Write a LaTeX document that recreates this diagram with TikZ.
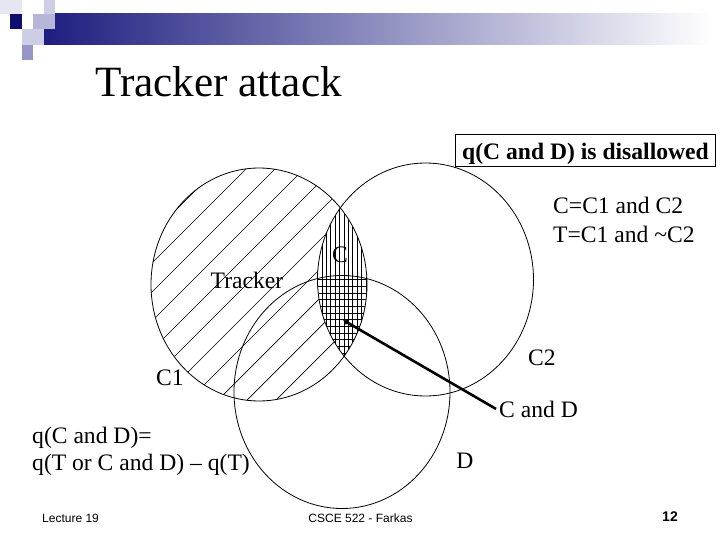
\documentclass[tikz,border=0pt]{standalone}
\usepackage{fontspec}
\setmainfont{Liberation Serif}
\newfontfamily\footfont{Liberation Sans}
\usetikzlibrary{arrows.meta,positioning}

\definecolor{navy}{RGB}{14,14,110}
\definecolor{barleft}{RGB}{30,30,128}
\definecolor{lavmid}{RGB}{150,150,200}
\definecolor{lavpale}{RGB}{205,205,230}

\begin{document}
\begin{tikzpicture}[x=1pt,y=-1pt,
	lbl/.style={font=\fontsize{23.6}{21}\selectfont, inner sep=0pt},
	ring/.style={line width=0.8pt},
	hatch/.style={line width=0.7pt},
	foot/.style={font=\footfont\fontsize{12}{14}\selectfont, inner sep=0pt}]
	\useasboundingbox (0,0) rectangle (720,540);
	
	% header bar and squares
	\shade[left color=barleft, right color=white] (44,14) rectangle (712,45);
	\fill[lavpale!50] (0,0) rectangle (22,14);
	\fill[lavpale] (44,0) rectangle (55,14);
	\fill[navy] (10,14) rectangle (22,29);
	\fill[lavmid!70] (33,14) rectangle (55,29);
	\fill[lavpale] (22,29) rectangle (44,45);
	\fill[lavmid] (22,45) rectangle (33,60);
	
	% title
	\node[anchor=base west, inner sep=0pt, font=\fontsize{43.2}{50}\selectfont] (title) at (95,97) {Tracker attack};
	
	% tracker region: C1 without C
	\begin{scope}
		\clip (259,284.5) ellipse [x radius=108, y radius=116.5];
		\foreach \c in {299,328,...,793}
			\draw[hatch] (\c-140,140) -- (\c-420,420);
	\end{scope}
	
	% query set C, and C and D
	\begin{scope}
		\clip (259,284.5) ellipse [x radius=108, y radius=116.5];
		\clip (425.5,279.5) ellipse [x radius=108, y radius=116.5];
		\fill[white] (300,190) rectangle (380,370);
		\foreach \x in {317.5,321.9,...,370}
			\draw[hatch] (\x,200) -- (\x,365);
		\clip (342,392) ellipse [x radius=108, y radius=116.5];
		\foreach \y in {279.5,286.2,...,360}
			\draw[hatch] (300,\y) -- (380,\y);
	\end{scope}
	
	% the three sets
	\draw[ring] (259,284.5) ellipse [x radius=108, y radius=116.5];
	\draw[ring] (425.5,279.5) ellipse [x radius=108, y radius=116.5];
	\draw[ring] (342,392) ellipse [x radius=108, y radius=116.5];
	
	% labels
	\node[draw, line width=0.8pt, inner xsep=7pt, inner ysep=3pt, text height=23pt, text depth=3pt,
		font=\fontsize{23.6}{28}\selectfont\bfseries] (warn) at (585.5,150) {q(C and D) is disallowed};
	\node[lbl, anchor=base west] (def1) at (553,214) {C=C1 and C2};
	\node[lbl, anchor=base west] (def2) at (553,242) {T=C1 and \textasciitilde C2};
	\node[lbl, anchor=base] (setc) at (340,262) {C};
	\node[lbl, anchor=base] (track) at (247,288) {Tracker};
	\node[lbl, anchor=base] (cone) at (170,385) {C1};
	\node[lbl, anchor=base] (ctwo) at (542,365) {C2};
	\node[lbl, anchor=base west, inner sep=3pt] (candd) at (496,417) {C and D};
	\node[lbl, anchor=base] (setd) at (465,468) {D};
	\node[lbl, anchor=base west] (eq1) at (32,443) {q(C and D)=};
	\node[lbl, anchor=base west] (eq2) at (32,470) {q(T or C and D) -- q(T)};
	
	% pointer to C and D
	\coordinate (cdtip) at (343,320);
	\draw[line width=2.6pt, -{Latex[length=5pt,width=6pt]}] (candd.west) -- (cdtip);
	
	% footer
	\node[foot, anchor=base west] (lect) at (42,522) {Lecture 19};
	\node[foot, anchor=base] (course) at (360.5,522) {CSCE 522 - Farkas};
	\node[foot, anchor=base, font=\footfont\fontsize{14}{16}\selectfont\bfseries] (pnum) at (670,521) {12};
\end{tikzpicture}
\end{document}
